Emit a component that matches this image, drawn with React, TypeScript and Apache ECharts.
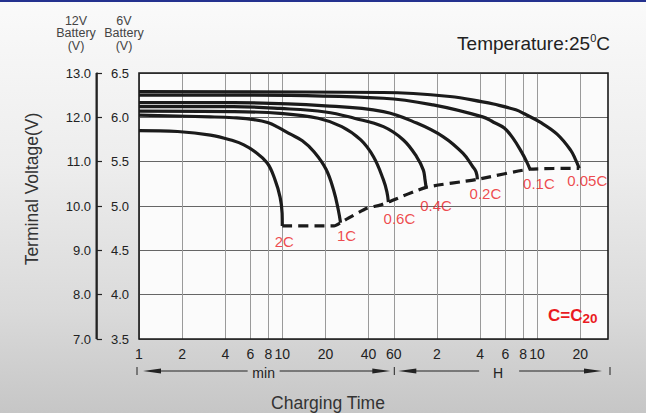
import React, { useEffect, useRef } from 'react';
import * as echarts from 'echarts';

// ---- axis data ----
const xTickMinutes = [1, 2, 4, 6, 8, 10, 20, 40, 60, 120, 240, 360, 480, 600, 1200];
const xTickLabels = ['1', '2', '4', '6', '8', '10', '20', '40', '60', '2', '4', '6', '8', '10', '20'];
const xMaxMinutes = 1875;
const y12Min = 7, y12Max = 13, y12Step = 1;
const y6Min = 3.5, y6Max = 6.5, y6Step = 0.5;

// ---- series data: [minutes, volts (12V battery)] ----
const rateNames = ['2C', '1C', '0.6C', '0.4C', '0.2C', '0.1C', '0.05C'];
const curve2C = [[1, 11.70], [1.86, 11.68], [3.15, 11.60], [4.56, 11.47], [5.39, 11.38], [6.34, 11.24], [7.85, 10.97], [8.9, 10.59], [9.65, 10.20], [9.97, 9.84], [10, 9.55]];
const curve1C = [[1, 12.05], [3.15, 12.01], [4.56, 11.99], [6.34, 11.95], [8, 11.88], [9.3, 11.78], [11.4, 11.62], [13.8, 11.47], [16.7, 11.22], [20.2, 10.83], [22.8, 10.36], [24.6, 9.91], [25.5, 9.62]];
const curve06C = [[1, 12.14], [4.56, 12.13], [9.65, 12.09], [17.8, 11.98], [26, 11.79], [35.3, 11.49], [43.3, 11.11], [50.8, 10.59], [53.7, 10.32], [55, 10.09]];
const curve04C = [[1, 12.24], [4.56, 12.24], [9.65, 12.20], [20, 12.12], [31.8, 11.98], [50.8, 11.79], [70, 11.49], [86.7, 11.11], [96.5, 10.81], [99.1, 10.59], [100.8, 10.42]];
const curve02C = [[1, 12.33], [4.56, 12.33], [20, 12.26], [50.8, 12.13], [86.7, 11.87], [133, 11.56], [182, 11.19], [213, 10.89], [225, 10.77], [230, 10.60]];
const curve01C = [[1, 12.50], [4.56, 12.50], [50.8, 12.43], [113, 12.28], [250, 12.01], [298, 11.89], [354, 11.76], [407, 11.53], [467, 11.22], [509, 10.99], [535, 10.83]];
const curve005C = [[1, 12.58], [50.8, 12.56], [148, 12.47], [250, 12.35], [298, 12.30], [426, 12.17], [489, 12.08], [630, 11.89], [827, 11.62], [1028, 11.26], [1115, 11.04], [1181, 10.85]];
const endVoltage = [[10, 9.55], [23, 9.55], [25.5, 9.62], [28.7, 9.72], [39, 9.95], [48.2, 10.02], [55, 10.09], [100.8, 10.42], [230, 10.60], [535, 10.83], [1181, 10.85]];

const curves = [curve2C, curve1C, curve06C, curve04C, curve02C, curve01C, curve005C];
const labelOffsets = [[2, 16], [6, 13], [11, 16], [10, 18], [8, 14], [9, 14], [8, 12]];

const FONT = '"Liberation Sans", Arial, Helvetica, sans-serif';
const AXIS12_OFFSET = 42;
const lg = (m: number) => Math.log10(m);
const toXY = (arr: number[][]) => arr.map(([m, v]) => [lg(m), v]);

function buildOption(): any {
  const customX = xTickMinutes.map(lg);
  const fmtX = (v: number) => {
    const i = customX.findIndex((c) => Math.abs(c - v) < 1e-6);
    return i >= 0 ? xTickLabels[i] : '';
  };
  const series: any[] = curves.map((c) => ({
    type: 'line',
    data: toXY(c),
    smooth: 0.4,
    symbol: 'none',
    lineStyle: { color: '#1b1b1b', width: 3.2 },
    z: 3,
    silent: true,
  }));
  series.push({
    type: 'line',
    data: toXY(endVoltage),
    smooth: 0.2,
    symbol: 'none',
    lineStyle: { color: '#1b1b1b', width: 3.2, type: [10, 6] },
    z: 3,
    silent: true,
  });
  series.push({
    type: 'scatter',
    symbolSize: 0,
    z: 5,
    silent: true,
    data: curves.map((c, i) => {
      const last = c[c.length - 1];
      return {
        name: rateNames[i],
        value: [lg(last[0]), last[1]],
        label: { offset: labelOffsets[i] },
      };
    }),
    label: {
      show: true,
      position: 'inside',
      formatter: '{b}',
      color: '#ea1a22',
      fontSize: 15,
      fontFamily: FONT,
      align: 'center',
      verticalAlign: 'middle',
    },
  });

  return {
    animation: false,
    backgroundColor: {
      type: 'linear', x: 0, y: 0, x2: 0, y2: 1,
      colorStops: [
        { offset: 0, color: '#fafafa' },
        { offset: 0.4, color: '#ededed' },
        { offset: 0.75, color: '#dadada' },
        { offset: 1, color: '#c6c6c6' },
      ],
    },
    textStyle: { fontFamily: FONT },
    grid: {
      left: 139, top: 73, right: 38, bottom: 74,
      show: true, backgroundColor: '#fbfbfb', borderWidth: 0,
    },
    xAxis: {
      type: 'value',
      min: 0,
      max: lg(xMaxMinutes),
      axisLine: { show: false, onZero: false },
      axisTick: { show: false, customValues: customX },
      axisLabel: {
        customValues: customX,
        formatter: fmtX,
        margin: 8,
        fontSize: 14,
        color: '#222',
        fontFamily: FONT,
        hideOverlap: false,
        showMinLabel: true,
        showMaxLabel: true,
      },
      splitLine: { show: true, customValues: customX, lineStyle: { color: '#9a9a9a', width: 1 } },
    },
    yAxis: [
      {
        type: 'value',
        min: y12Min, max: y12Max, interval: y12Step,
        position: 'left',
        offset: AXIS12_OFFSET,
        axisLine: { show: true, onZero: false, lineStyle: { color: '#222', width: 1.5 } },
        axisTick: { show: true, inside: true, length: 5, lineStyle: { color: '#222', width: 1.2 } },
        axisLabel: { margin: 6, fontSize: 13, color: '#222', fontFamily: FONT, formatter: (v: number) => v.toFixed(1) },
        splitLine: { show: true, lineStyle: { color: '#666', width: 1 } },
      },
      {
        type: 'value',
        min: y6Min, max: y6Max, interval: y6Step,
        position: 'left',
        offset: 0,
        axisLine: { show: false, onZero: false },
        axisTick: { show: false },
        axisLabel: { margin: 10, fontSize: 13, color: '#222', fontFamily: FONT, formatter: (v: number) => v.toFixed(1) },
        splitLine: { show: false },
      },
    ],
    series,
  };
}

function buildGraphic(chart: any): any[] {
  const px = (m: number) => chart.convertToPixel({ xAxisIndex: 0 }, lg(m));
  const py = (v: number) => chart.convertToPixel({ yAxisIndex: 0 }, v);
  const left = px(xTickMinutes[0]);
  const mid = px(60);
  const right = px(xMaxMinutes);
  const top = py(y12Max);
  const bottom = py(y12Min);
  const y = bottom + 32;
  const ink = '#222';
  const els: any[] = [];

  els.push({ type: 'rect', z: 10, silent: true, shape: { x: 0, y: 0, width: 646, height: 2 }, style: { fill: '#24318f' } });
  els.push({ type: 'rect', z: 10, silent: true, shape: { x: left, y: top, width: right - left, height: bottom - top }, style: { fill: 'none', stroke: '#1a1a1a', lineWidth: 1.6 } });
  // 12V axis bracket line
  els.push({ type: 'rect', z: 20, silent: true, shape: { x: left - AXIS12_OFFSET - 1.5, y: top, width: 1.8, height: bottom - top }, style: { fill: '#222' } });

  const bar = (x: number) => ({ type: 'line', z: 10, silent: true, shape: { x1: x, y1: y - 4, x2: x, y2: y + 4 }, style: { stroke: ink, lineWidth: 1 } });
  const seg = (x1: number, x2: number) => ({ type: 'line', z: 10, silent: true, shape: { x1, y1: y, x2, y2: y }, style: { stroke: ink, lineWidth: 1 } });
  const headL = (tx: number) => ({ type: 'polygon', z: 10, silent: true, shape: { points: [[tx, y], [tx + 18, y - 2.5], [tx + 18, y + 2.5]] }, style: { fill: ink } });
  const headR = (tx: number) => ({ type: 'polygon', z: 10, silent: true, shape: { points: [[tx, y], [tx - 18, y - 2.5], [tx - 18, y + 2.5]] }, style: { fill: ink } });
  const label = (x: number, t: string) => ({ type: 'text', z: 10, silent: true, x, y: y + 1.5, style: { text: t, align: 'center', verticalAlign: 'middle', fontSize: 14, fontFamily: FONT, fill: ink } });

  // min section
  {
    const bL = left - 2, bR = mid + 0.5;
    const tL = bL + 6, tR = bR - 4;
    const cx = (bL + bR) / 2 - 2;
    els.push(bar(bL), headL(tL), seg(tL + 10, cx - 16), label(cx, 'min'), seg(cx + 16, tR - 10), headR(tR));
  }
  // H section
  {
    const bL = mid + 0.5, bR = right + 2;
    const tL = bL + 4, tR = bR - 8;
    const cx = (bL + bR) / 2 - 4;
    els.push(bar(bL), headL(tL), seg(tL + 10, cx - 19), label(cx, 'H'), seg(cx + 21, tR - 10), headR(tR), bar(bR));
  }

  const txt = (x: number, yy: number, text: string, extra: any, rot = 0) => ({
    type: 'text', z: 10, silent: true, x, y: yy, rotation: rot,
    style: { text, fontFamily: FONT, ...extra },
  });
  els.push(txt(76, 14.5, '12V\nBattery\n(V)', { align: 'center', verticalAlign: 'top', fontSize: 12.5, lineHeight: 12.5, fill: '#444' }));
  els.push(txt(124, 14.5, '6V\nBattery\n(V)', { align: 'center', verticalAlign: 'top', fontSize: 12.5, lineHeight: 12.5, fill: '#444' }));
  els.push(txt(610, 43.5, '{n|Temperature:25}{s|0}{n|C}', {
    align: 'right', verticalAlign: 'middle',
    rich: {
      n: { fontSize: 19, fill: '#222', fontFamily: FONT, lineHeight: 22 },
      s: { fontSize: 11, fill: '#222', fontFamily: FONT, verticalAlign: 'top', lineHeight: 12 },
    },
  }));
  els.push(txt(32, 189, 'Terminal Voltage(V)', { align: 'center', verticalAlign: 'middle', fontSize: 17.5, fill: '#333' }, Math.PI / 2));
  els.push(txt(328, 403, 'Charging Time', { align: 'center', verticalAlign: 'middle', fontSize: 17.5, fill: '#333' }));
  els.push(txt(548, 315, '{a|C=C}{b|20}', {
    align: 'left', verticalAlign: 'middle',
    rich: {
      a: { fontSize: 17, fontWeight: 'bold', fill: '#ea1a22', fontFamily: FONT, lineHeight: 20 },
      b: { fontSize: 13.5, fontWeight: 'bold', fill: '#ea1a22', fontFamily: FONT, verticalAlign: 'bottom', lineHeight: 14 },
    },
  }));
  return els;
}

export default function App() {
  const ref = useRef<HTMLDivElement>(null);
  useEffect(() => {
    const chart = echarts.init(ref.current!, null, { renderer: 'svg' });
    chart.setOption(buildOption());
    chart.setOption({ graphic: buildGraphic(chart) });
    return () => chart.dispose();
  }, []);
  return <div ref={ref} style={{ position: 'fixed', left: 0, top: 0, width: 646, height: 413 }} />;
}
